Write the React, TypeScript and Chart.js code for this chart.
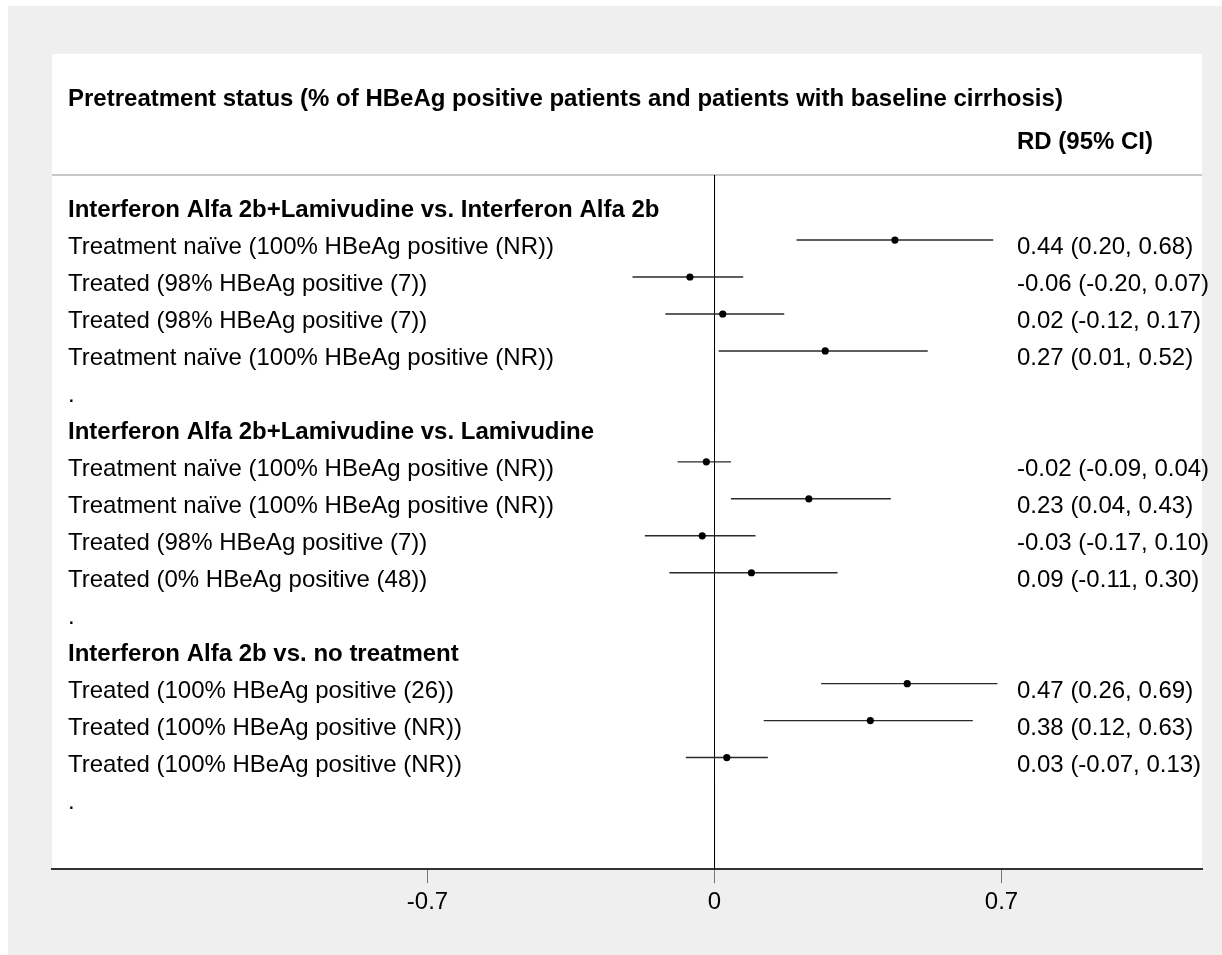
import { useEffect, useRef } from 'react';
import { Chart, registerables } from 'chart.js';

Chart.register(...registerables);

// Header texts
const titleText = 'Pretreatment status (% of HBeAg positive patients and patients with baseline cirrhosis)';
const effectHeader = 'RD (95% CI)';

// One entry per row, top to bottom (group headings, studies and spacer rows)
const rowLabels = [
  'Interferon Alfa 2b+Lamivudine vs. Interferon Alfa 2b',
  'Treatment naïve (100% HBeAg positive (NR))',
  'Treated (98% HBeAg positive (7))',
  'Treated (98% HBeAg positive (7))',
  'Treatment naïve (100% HBeAg positive (NR))',
  '.',
  'Interferon Alfa 2b+Lamivudine vs. Lamivudine',
  'Treatment naïve (100% HBeAg positive (NR))',
  'Treatment naïve (100% HBeAg positive (NR))',
  'Treated (98% HBeAg positive (7))',
  'Treated (0% HBeAg positive (48))',
  '.',
  'Interferon Alfa 2b vs. no treatment',
  'Treated (100% HBeAg positive (26))',
  'Treated (100% HBeAg positive (NR))',
  'Treated (100% HBeAg positive (NR))',
  '.',
];
const rowIsHeading = [true, false, false, false, false, false, true, false, false, false, false, false, true, false, false, false, false];

// Risk difference with 95% CI (null for rows without an estimate)
const estimates: (number | null)[] = [null, 0.44, -0.06, 0.02, 0.27, null, null, -0.02, 0.23, -0.03, 0.09, null, null, 0.47, 0.38, 0.03, null];
const lowerCI: (number | null)[] = [null, 0.2, -0.2, -0.12, 0.01, null, null, -0.09, 0.04, -0.17, -0.11, null, null, 0.26, 0.12, -0.07, null];
const upperCI: (number | null)[] = [null, 0.68, 0.07, 0.17, 0.52, null, null, 0.04, 0.43, 0.1, 0.3, null, null, 0.69, 0.63, 0.13, null];

// Axis
const xTicks = [-0.7, 0, 0.7];
const xMin = -1.616;
const xMax = 1.189;
const yMin = -0.76;
const yMax = 18.02;

const FONT = 'Arial, "Liberation Sans", Helvetica, sans-serif';

const fmt = (v: number) => v.toFixed(2);

export default function App() {
  const canvasRef = useRef<HTMLCanvasElement | null>(null);

  useEffect(() => {
    const canvas = canvasRef.current;
    if (!canvas) return;

    const ciDatasets = estimates
      .map((est, i) => ({ est, i }))
      .filter(({ est }) => est !== null)
      .map(({ i }) => ({
        type: 'scatter' as const,
        data: [
          { x: lowerCI[i] as number, y: i },
          { x: upperCI[i] as number, y: i },
        ],
        showLine: true,
        borderColor: '#2a2a2a',
        borderWidth: 1.4,
        pointRadius: 0,
        order: 2,
      }));

    const pointDataset = {
      type: 'scatter' as const,
      data: estimates
        .map((est, i) => (est === null ? null : { x: est, y: i }))
        .filter((p) => p !== null) as { x: number; y: number }[],
      showLine: false,
      pointRadius: 3.6,
      pointBackgroundColor: '#000',
      pointBorderColor: '#000',
      pointBorderWidth: 0,
      order: 1,
    };

    const zeroLine = {
      type: 'scatter' as const,
      data: [
        { x: 0, y: yMin },
        { x: 0, y: yMax },
      ],
      showLine: true,
      borderColor: '#000',
      borderWidth: 1,
      pointRadius: 0,
      order: 3,
    };

    const backgroundPlugin = {
      id: 'panelBackground',
      beforeDraw(chart: Chart) {
        const { ctx, width, height, chartArea } = chart;
        ctx.save();
        ctx.fillStyle = '#ffffff';
        ctx.fillRect(0, 0, width, height);
        ctx.fillStyle = '#efefef';
        ctx.fillRect(8, 6, width - 8, height - 6);
        ctx.fillStyle = '#ffffff';
        ctx.fillRect(chartArea.left, 54, chartArea.right - chartArea.left, chartArea.bottom - 54);
        // separator under the column headings
        ctx.strokeStyle = '#c8c8c8';
        ctx.lineWidth = 2;
        ctx.beginPath();
        ctx.moveTo(chartArea.left, chartArea.top);
        ctx.lineTo(chartArea.right, chartArea.top);
        ctx.stroke();
        ctx.restore();
      },
    };

    const textPlugin = {
      id: 'forestText',
      afterDraw(chart: Chart) {
        const { ctx } = chart;
        const yScale = chart.scales.y;
        const left = 68;
        const rightCol = 1017;
        ctx.save();
        ctx.fillStyle = '#000';
        ctx.textBaseline = 'alphabetic';
        ctx.textAlign = 'left';
        ctx.font = `bold 24px ${FONT}`;
        ctx.fillText(titleText, left, 106);
        ctx.fillText(effectHeader, rightCol, 149);
        rowLabels.forEach((label, i) => {
          const y = yScale.getPixelForValue(i) + 14;
          ctx.font = rowIsHeading[i] ? `bold 24px ${FONT}` : `24px ${FONT}`;
          ctx.fillText(label, left, y);
          const est = estimates[i];
          if (est !== null) {
            ctx.font = `24px ${FONT}`;
            ctx.fillText(
              `${fmt(est)} (${fmt(lowerCI[i] as number)}, ${fmt(upperCI[i] as number)})`,
              rightCol,
              y
            );
          }
        });
        ctx.restore();
      },
    };

    const chart = new Chart(canvas, {
      type: 'scatter',
      data: { datasets: [zeroLine, ...ciDatasets, pointDataset] as any },
      options: {
        animation: false,
        responsive: false,
        devicePixelRatio: 1,
        layout: { padding: { left: 52, right: 20, top: 175, bottom: 33 } },
        plugins: {
          legend: { display: false },
          tooltip: { enabled: false },
          title: { display: false },
        },
        scales: {
          x: {
            type: 'linear',
            min: xMin,
            max: xMax,
            afterBuildTicks: (scale: any) => {
              scale.ticks = xTicks.map((v) => ({ value: v }));
            },
            grid: {
              display: true,
              drawOnChartArea: false,
              drawTicks: true,
              tickLength: 14,
              color: '#777',
              lineWidth: 1,
            },
            border: { display: true, color: '#333', width: 2 },
            ticks: {
              color: '#000',
              font: { family: FONT, size: 24 },
              padding: 5,
              maxRotation: 0,
              callback: (v: any) => String(Number(v)),
            },
          },
          y: {
            type: 'linear',
            display: false,
            reverse: true,
            min: yMin,
            max: yMax,
          },
        },
      },
      plugins: [backgroundPlugin, textPlugin],
    });

    return () => chart.destroy();
  }, []);

  return (
    <div style={{ position: 'absolute', left: 0, top: 0, width: 1222, height: 955 }}>
      <canvas ref={canvasRef} width={1222} height={955} />
    </div>
  );
}
